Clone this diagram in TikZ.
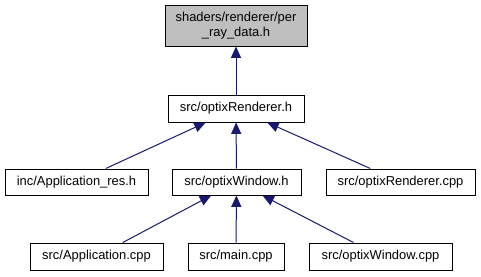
\documentclass[tikz,border=0pt]{standalone}
\usepackage{fontspec}
\setmainfont{Liberation Sans}
\usetikzlibrary{arrows.meta}
\definecolor{navyedge}{HTML}{191970}
\definecolor{hdrgray}{HTML}{BFBFBF}

\begin{document}
\begin{tikzpicture}[x=0.75pt, y=-0.75pt, line width=0.75pt,
  file/.style={draw=black, fill=white, inner sep=0pt, minimum height=27*0.75pt,
               font=\fontsize{9.7}{11.5}\selectfont, align=center},
  incl/.style={navyedge, {Triangle[length=8.5pt, width=7.5pt]}-}]

% Background
\useasboundingbox (0,0) rectangle (481,276);
\fill[white] (0,0) rectangle (481,276);

%% TOP: the header itself
\node[file, fill=hdrgray, minimum width=142*0.75pt, minimum height=41*0.75pt]
      (perray) at (236,25.5) {shaders/renderer/per\\\_ray\_data.h};

% Renderer header
\node[file, minimum width=136*0.75pt] (rendh) at (236,108.5) {src/optixRenderer.h};

%% MIDDLE ROW
\node[file, minimum width=143*0.75pt, minimum height=26*0.75pt] (appres) at (76.5,182) {inc/Application\_res.h};
\node[file, minimum width=129*0.75pt, minimum height=26*0.75pt] (winh) at (236.5,182) {src/optixWindow.h};
\node[file, minimum width=149*0.75pt, minimum height=26*0.75pt] (rendcpp) at (400.5,182) {src/optixRenderer.cpp};

%% BOTTOM ROW
\node[file, minimum width=133*0.75pt] (appcpp) at (96.5,256.5) {src/Application.cpp};
\node[file, minimum width=96*0.75pt] (maincpp) at (236,256.5) {src/main.cpp};
\node[file, minimum width=143*0.75pt] (wincpp) at (380.5,256.5) {src/optixWindow.cpp};

% Include arrows
\draw[incl] (perray) -- (rendh);
\draw[incl] (rendh) -- (appres);
\draw[incl] (rendh) -- (winh);
\draw[incl] (rendh) -- (rendcpp);
\draw[incl] (winh) -- (appcpp);
\draw[incl] (winh) -- (maincpp);
\draw[incl] (winh) -- (wincpp);

\end{tikzpicture}
\end{document}
